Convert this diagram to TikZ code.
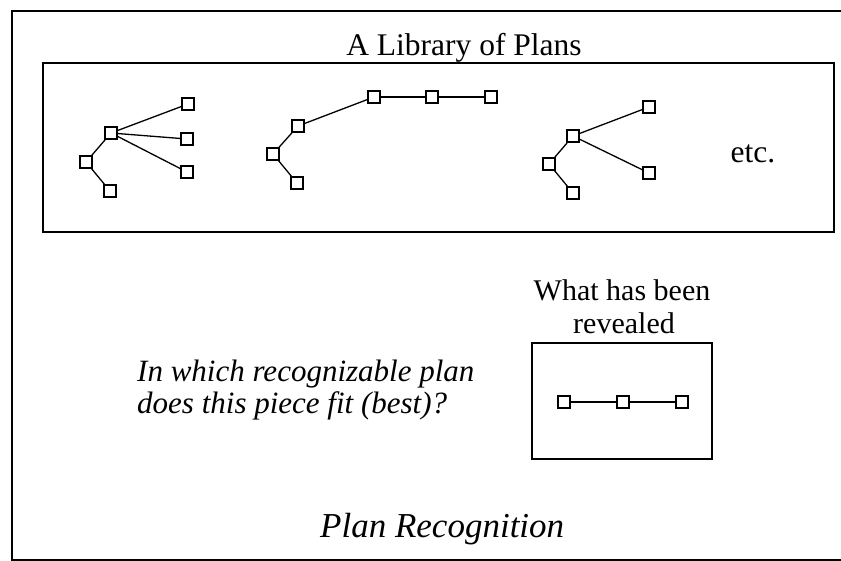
\documentclass[tikz,border=0pt]{standalone}
\usepackage{fontspec}
\setmainfont{Liberation Serif}
\begin{document}
\begin{tikzpicture}[x=1pt,y=-1pt,
  pn/.style={draw,line width=1.5pt,minimum size=12pt,inner sep=0pt,fill=white},
  edge/.style={line width=1.3pt},
  frame/.style={line width=2.4pt},
  txt/.style={inner sep=0pt,font=\fontsize{30}{33}\selectfont},
  ttl/.style={inner sep=0pt,font=\fontsize{31.5}{35}\selectfont},
  itxt/.style={inner sep=0pt,font=\fontsize{31}{34}\selectfont\itshape},
  big/.style={inner sep=0pt,font=\fontsize{35}{40}\selectfont\itshape}]
\useasboundingbox (0,0) rectangle (841,560);
\clip (0,0) rectangle (841,560);
\draw[frame] (12,11) rectangle (870,560);
\draw[frame] (43,63) rectangle (834,232);
\draw[frame] (532,343) rectangle (712,459);
% texts
\node[ttl,anchor=base] (title) at (464,55) {A Library of Plans};
\node[ttl,anchor=base] (etc) at (753,162) {etc.};
\node[txt,anchor=base] (what) at (622,300) {What has been};
\node[txt,anchor=base] (rev) at (624,333) {revealed};
\node[itxt,anchor=base west] (q1) at (137,381) {In which recognizable plan};
\node[itxt,anchor=base west] (q2) at (137,413) {does this piece fit (best)?};
\node[big,anchor=base west] (pr) at (320,537) {Plan Recognition};
% tree 1
\node[pn] (a1) at (86,162) {};
\node[pn] (b1) at (111,133) {};
\node[pn] (c1) at (110,191) {};
\node[pn] (d1) at (188,104) {};
\node[pn] (e1) at (187,139) {};
\node[pn] (f1) at (187,172) {};
\draw[edge] (a1) -- (b1);
\draw[edge] (a1) -- (c1);
\draw[edge] (b1) -- (d1);
\draw[edge] (b1) -- (e1);
\draw[edge] (b1) -- (f1);
% tree 2
\node[pn] (a2) at (273,154) {};
\node[pn] (b2) at (298,126) {};
\node[pn] (c2) at (297,183) {};
\node[pn] (d2) at (374,97) {};
\node[pn] (e2) at (432,97) {};
\node[pn] (f2) at (491,97) {};
\draw[edge] (a2) -- (b2);
\draw[edge] (a2) -- (c2);
\draw[edge] (b2) -- (d2);
\draw[edge] (d2) -- (e2);
\draw[edge] (e2) -- (f2);
% tree 3
\node[pn] (a3) at (549,164) {};
\node[pn] (b3) at (573,136) {};
\node[pn] (c3) at (573,193) {};
\node[pn] (d3) at (649,107) {};
\node[pn] (e3) at (649,173) {};
\draw[edge] (a3) -- (b3);
\draw[edge] (a3) -- (c3);
\draw[edge] (b3) -- (d3);
\draw[edge] (b3) -- (e3);
% revealed
\node[pn] (r1) at (564,402) {};
\node[pn] (r2) at (623,402) {};
\node[pn] (r3) at (682,402) {};
\draw[edge] (r1) -- (r2);
\draw[edge] (r2) -- (r3);
\end{tikzpicture}
\end{document}
